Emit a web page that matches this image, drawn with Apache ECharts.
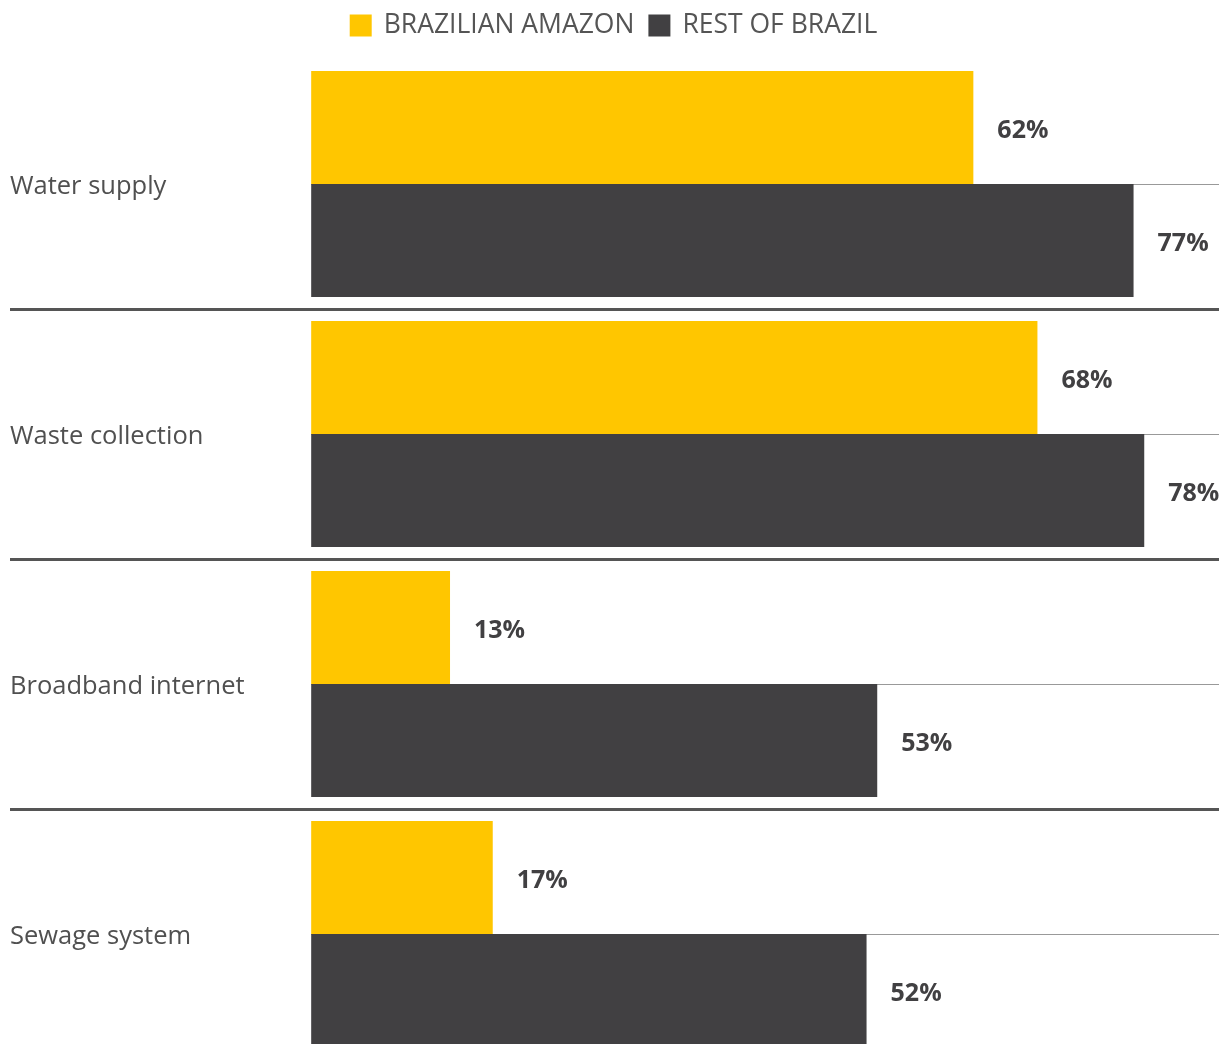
<!DOCTYPE html>
<html><head><meta charset="utf-8">
<script src="https://cdn.jsdelivr.net/npm/echarts@6/dist/echarts.min.js"></script>
<style>html,body{margin:0;padding:0;background:#fff}#c{width:1227px;height:1044px}</style>
</head><body><div id="c"></div>
<script>
const categories = ['Water supply', 'Waste collection', 'Broadband internet', 'Sewage system'];
const seriesNames = ['BRAZILIAN AMAZON', 'REST OF BRAZIL'];
const amazon = [62, 68, 13, 17];
const restOfBrazil = [77, 78, 53, 52];

const xMin = -28.2, xMax = 85;
const FONT = '"Open Sans", Lato, sans-serif';
const chart = echarts.init(document.getElementById('c'));
const labelStyle = {
  show: true, position: 'right', distance: 24, offset: [0, 3],
  formatter: '{c}%', fontFamily: FONT, fontWeight: 'bold', fontSize: 25, color: '#414042'
};
chart.setOption({
  animation: false,
  legend: {
    top: 7, left: 'center', itemWidth: 22, itemHeight: 22, itemGap: 14, icon: 'rect',
    textStyle: { fontFamily: FONT, fontSize: 26.5, fontWeight: 'normal', color: '#555', padding: [0, 0, 0, 7] },
    data: seriesNames
  },
  grid: { left: 10, right: 8, top: 59, height: 1000, outerBoundsMode: 'none' },
  xAxis: { type: 'value', min: xMin, max: xMax, show: false },
  yAxis: {
    type: 'category', data: categories, inverse: true,
    axisLine: { show: false }, axisTick: { show: false },
    axisLabel: {
      inside: true, margin: 0, formatter: '{a|{value}}',
      rich: { a: { fontFamily: FONT, fontSize: 25.5, fontWeight: 'normal', color: '#505050', padding: [6, 0, 0, 0] } }
    },
    splitLine: { show: true, showMinLine: false, showMaxLine: false, lineStyle: { color: '#555', width: 3 } }
  },
  series: [
    { name: seriesNames[0], type: 'bar', data: amazon, barGap: '0%', barCategoryGap: '9.6%',
      itemStyle: { color: '#FFC600' }, label: labelStyle },
    { name: seriesNames[1], type: 'bar', data: restOfBrazil,
      itemStyle: { color: '#414042' }, label: labelStyle },
    { name: 'centre lines', type: 'line', data: [], silent: true, z: 1,
      markLine: {
        silent: true, symbol: 'none', z: 1, label: { show: false },
        lineStyle: { color: '#999', width: 1, type: 'solid' },
        data: categories.map(c => [{ coord: [0, c] }, { coord: [xMax, c] }])
      } }
  ]
});
</script></body></html>
